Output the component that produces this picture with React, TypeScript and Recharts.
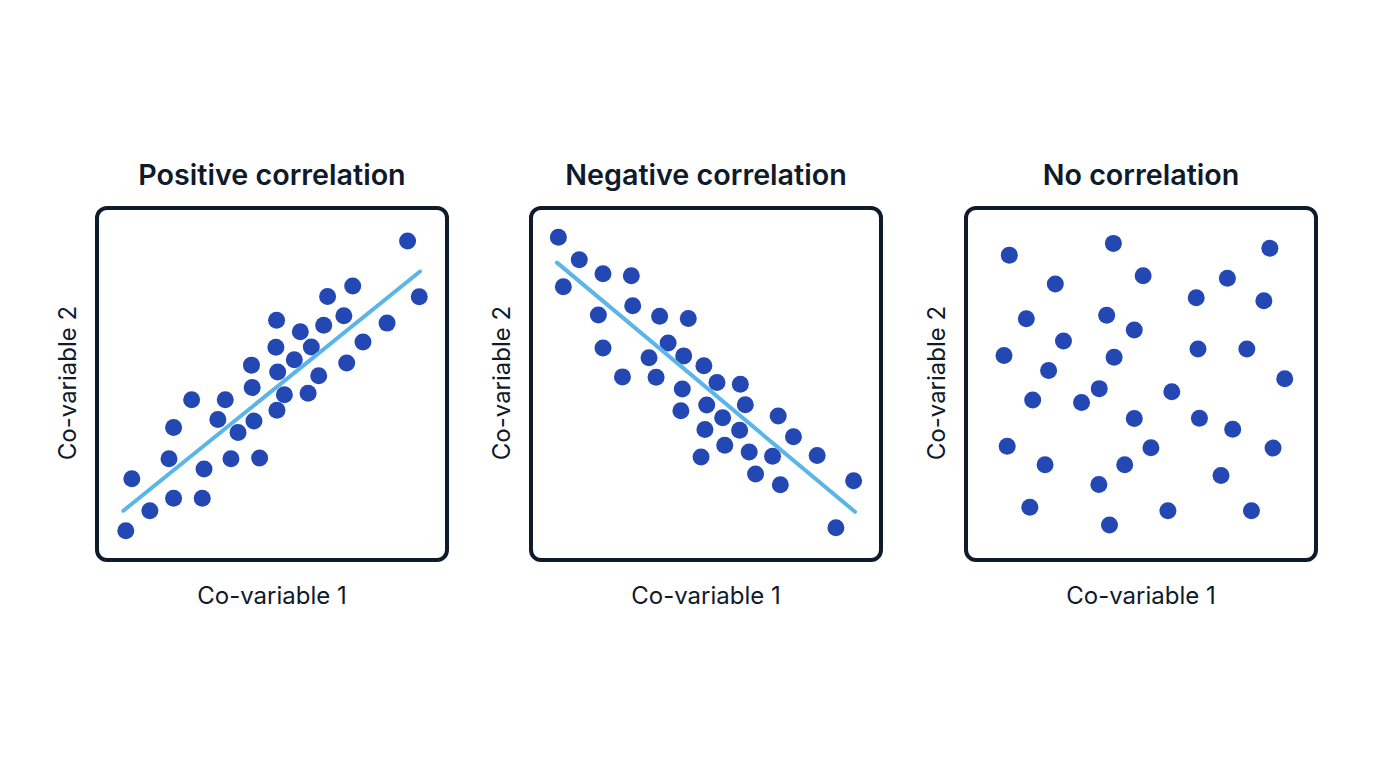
import React from "react";
import { ScatterChart, Scatter, XAxis, YAxis } from "recharts";

const titles = ["Positive correlation", "Negative correlation", "No correlation"];
const xLabel = "Co-variable 1";
const yLabel = "Co-variable 2";

const posX = [88.3, 91.6, 72.8, 65.7, 70.3, 64.6, 82.5, 51.3, 58.0, 75.7, 51.1, 61.1, 56.3, 44.2, 51.6, 71.1, 63.2, 44.4, 53.5, 60.2, 27.3, 36.8, 34.7, 44.9, 51.4, 22.2, 40.4, 20.9, 38.4, 46.5, 30.8, 10.4, 22.2, 30.3, 15.5, 8.7];
const posY = [90.2, 74.5, 77.5, 74.6, 69.2, 66.5, 67.1, 67.9, 64.7, 61.8, 60.3, 60.4, 56.8, 55.3, 53.4, 55.9, 52.3, 49.0, 47.0, 47.4, 45.6, 45.6, 40.0, 39.6, 42.6, 37.8, 36.4, 29.0, 29.0, 29.2, 26.1, 23.4, 17.9, 17.9, 14.4, 8.8];
const posFitX = [8.0, 91.8];
const posFitY = [14.4, 81.6];

const negX = [8.3, 14.2, 9.7, 20.9, 28.9, 29.3, 19.6, 36.9, 45.0, 20.9, 39.3, 33.9, 43.7, 26.4, 35.9, 49.4, 53.1, 59.7, 43.3, 50.2, 61.1, 42.9, 70.4, 54.7, 49.7, 59.5, 74.7, 55.3, 62.2, 68.8, 81.4, 48.6, 64.0, 71.0, 91.7, 86.7];
const negY = [91.2, 84.9, 77.3, 81.0, 80.4, 72.0, 69.4, 69.0, 68.4, 60.1, 61.5, 57.4, 57.9, 52.0, 51.9, 55.1, 50.4, 49.9, 48.6, 44.1, 44.2, 42.5, 41.0, 40.5, 37.2, 37.0, 35.2, 32.8, 30.9, 29.7, 29.9, 29.5, 24.7, 21.7, 22.8, 9.6];
const negFitX = [7.9, 92.1];
const negFitY = [84.1, 14.1];

const noneX = [12.8, 42.2, 86.4, 25.8, 50.6, 74.4, 65.6, 84.7, 17.6, 40.3, 48.1, 28.1, 11.3, 42.4, 66.1, 79.9, 23.9, 90.6, 38.2, 58.7, 19.4, 33.2, 48.1, 66.5, 75.9, 12.2, 52.8, 87.3, 22.9, 45.4, 38.1, 72.6, 18.6, 57.6, 81.2, 41.1];
const noneY = [86.2, 89.5, 88.1, 78.1, 80.4, 79.7, 74.2, 73.4, 68.3, 69.3, 65.2, 62.1, 58.0, 57.5, 59.8, 59.8, 53.8, 51.5, 48.7, 47.8, 45.5, 44.8, 40.3, 40.4, 37.3, 32.5, 32.1, 32.0, 27.3, 27.3, 21.8, 24.3, 15.4, 14.4, 14.4, 10.4];

const zip = (xs: number[], ys: number[]) => xs.map((x, i) => ({ x, y: ys[i] }));

const panels = [
  { title: titles[0], points: zip(posX, posY), fit: zip(posFitX, posFitY) },
  { title: titles[1], points: zip(negX, negY), fit: zip(negFitX, negFitY) },
  { title: titles[2], points: zip(noneX, noneY), fit: null as null | { x: number; y: number }[] },
];

const BOX_LEFTS = [95, 529, 964];
const BOX_TOP = 206;
const BOX_W = 354;
const BOX_H = 356;
const INK = "#0f1a2b";
const DOT = "#2347b3";
const LINE = "#5bb5e8";
const FONT = "Inter, 'Noto Sans', sans-serif";

const Dot = (props: any) => {
  const { cx, cy } = props;
  if (cx == null || cy == null) return <g />;
  return <circle cx={cx} cy={cy} r={8.5} fill={DOT} />;
};

const NoShape = () => <g />;

export default function App() {
  return (
    <div style={{ position: "absolute", left: 0, top: 0, width: 1376, height: 768, background: "#fff", fontFamily: FONT, color: INK }}>
      {panels.map((p, i) => {
        const left = BOX_LEFTS[i];
        const cx = left + BOX_W / 2;
        return (
          <React.Fragment key={i}>
            <div style={{ position: "absolute", left, top: 158, width: BOX_W, textAlign: "center", fontSize: 28.7, fontWeight: 600, lineHeight: "34px", whiteSpace: "nowrap" }}>
              {p.title}
            </div>
            <div style={{ position: "absolute", left, top: BOX_TOP, width: BOX_W, height: BOX_H, boxSizing: "border-box", border: `4.5px solid ${INK}`, borderRadius: 12 }} />
            <div style={{ position: "absolute", left, top: BOX_TOP }}>
              <ScatterChart width={BOX_W} height={BOX_H} margin={{ top: 0, right: 0, bottom: 0, left: 0 }}>
                <XAxis type="number" dataKey="x" domain={[0, 100]} hide />
                <YAxis type="number" dataKey="y" domain={[0, 100]} hide />
                <Scatter data={p.points} shape={Dot} isAnimationActive={false} />
                {p.fit && (
                  <Scatter
                    data={p.fit}
                    shape={NoShape}
                    line={{ stroke: LINE, strokeWidth: 4, strokeLinecap: "round" } as any}
                    isAnimationActive={false}
                  />
                )}
              </ScatterChart>
            </div>
            <div style={{ position: "absolute", left: cx - 150, top: 582, width: 300, textAlign: "center", fontSize: 24, lineHeight: "28px" }}>
              {xLabel}
            </div>
            <div style={{ position: "absolute", left: left - 27 - 100, top: BOX_TOP + BOX_H / 2 - 15, width: 200, height: 28, textAlign: "center", fontSize: 24, lineHeight: "28px", transform: "rotate(-90deg)" }}>
              {yLabel}
            </div>
          </React.Fragment>
        );
      })}
    </div>
  );
}
